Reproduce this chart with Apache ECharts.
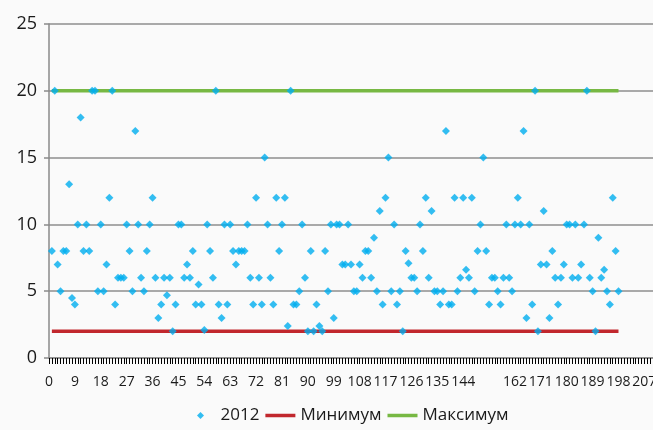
<!DOCTYPE html>
<html>
<head>
<meta charset="utf-8">
<script src="https://cdn.jsdelivr.net/npm/echarts@6/dist/echarts.min.js"></script>
<style>
html,body{margin:0;padding:0;background:#fafafa;}
#c{width:653px;height:430px;}
</style>
</head>
<body>
<div id="c"></div>
<script>
// Daily values for 2012 (x = 1..198)
const values2012 = [
  8,20,7,5,8,8,13,4.5,4,10,
  18,8,10,8,20,20,5,10,5,7,
  12,20,4,6,6,6,10,8,5,17,
  10,6,5,8,10,12,6,3,4,6,
  4.7,6,2,4,10,10,6,7,6,8,
  4,5.5,4,2.1,10,8,6,20,4,3,
  10,4,10,8,7,8,8,8,10,6,
  4,12,6,4,15,10,6,4,12,8,
  10,12,2.4,20,4,4,5,10,6,2,
  8,2,4,2.4,2,8,5,10,3,10,
  10,7,7,10,7,5,5,7,6,8,
  8,6,9,5,11,4,12,15,5,10,
  4,5,2,8,7.1,6,6,5,10,8,
  12,6,11,5,5,4,5,17,4,4,
  12,5,6,12,6.6,6,12,5,8,10,
  15,8,4,6,6,5,4,6,10,6,
  5,10,12,10,17,3,10,4,20,2,
  7,11,7,3,8,6,4,6,7,10,
  10,6,10,6,7,10,20,6,5,2,
  9,6,6.6,5,4,12,8,5
];
const minimumValue = 2;
const maximumValue = 20;
const lineStart = 1;
const lineEnd = 198;
const seriesNames = ['2012', 'Минимум', 'Максимум'];
const xTickLabels = [0,9,18,27,36,45,54,63,72,81,90,99,108,117,126,135,144,162,171,180,189,198,207];
const xMin = 0, xMax = 210, xStep = 9;
const yMin = 0, yMax = 25, yStep = 5;

const labelSet = new Set(xTickLabels);
const pts = values2012.map((v, i) => [i + 1, v]);
const font = '"Open Sans", "Noto Sans", sans-serif';

const chart = echarts.init(document.getElementById('c'), null, {renderer: 'canvas'});
chart.setOption({
  backgroundColor: '#fafafa',
  animation: false,
  grid: {left: 49, right: 0, top: 24, bottom: 72, containLabel: false, outerBoundsMode: 'none'},
  legend: {
    left: 192, top: 402,
    itemWidth: 30, itemHeight: 7, itemGap: 6,
    itemStyle: {borderWidth: 0},
    textStyle: {fontSize: 17, color: '#1a1a1a', fontFamily: font},
    data: [
      {name: seriesNames[0], icon: 'path://M5,0L10,5L5,10L0,5Z'},
      {name: seriesNames[1], icon: 'path://M0,0H30V3.5H0Z'},
      {name: seriesNames[2], icon: 'path://M0,0H30V3.5H0Z'}
    ]
  },
  xAxis: {
    type: 'value',
    min: xMin, max: xMax, interval: xStep,
    axisLine: {show: true, onZero: true, lineStyle: {color: '#8a8a8a', width: 1.5}},
    axisTick: {show: true, inside: false, length: 6, lineStyle: {color: '#000', width: 1}},
    minorTick: {show: true, splitNumber: 9, length: 6, lineStyle: {color: '#000', width: 1}},
    axisLabel: {
      formatter: (v) => labelSet.has(v) ? String(v) : '',
      showMaxLabel: true,
      margin: 17,
      fontSize: 14,
      color: '#1a1a1a',
      fontFamily: font
    },
    splitLine: {show: false},
    minorSplitLine: {show: false}
  },
  yAxis: {
    type: 'value',
    min: yMin, max: yMax, interval: yStep,
    axisLine: {show: true, lineStyle: {color: '#8a8a8a', width: 1.5}},
    axisTick: {show: true, length: 5, lineStyle: {color: '#8a8a8a', width: 1.5}},
    axisLabel: {margin: 12, fontSize: 18, color: '#1a1a1a', fontFamily: font},
    splitLine: {show: true, lineStyle: {color: '#8e8e8e', width: 1.5}}
  },
  series: [
    {
      name: seriesNames[1], type: 'line',
      data: [[lineStart, minimumValue], [lineEnd, minimumValue]],
      showSymbol: false, symbol: 'none',
      itemStyle: {color: '#c1272d'},
      lineStyle: {color: '#c1272d', width: 3.5},
      z: 2
    },
    {
      name: seriesNames[2], type: 'line',
      data: [[lineStart, maximumValue], [lineEnd, maximumValue]],
      showSymbol: false, symbol: 'none',
      itemStyle: {color: '#77b843'},
      lineStyle: {color: '#77b843', width: 3.5},
      z: 2
    },
    {
      name: seriesNames[0], type: 'scatter',
      data: pts,
      symbol: 'diamond', symbolSize: 8,
      itemStyle: {color: '#00aeef'},
      z: 3
    }
  ]
});
</script>
</body>
</html>
